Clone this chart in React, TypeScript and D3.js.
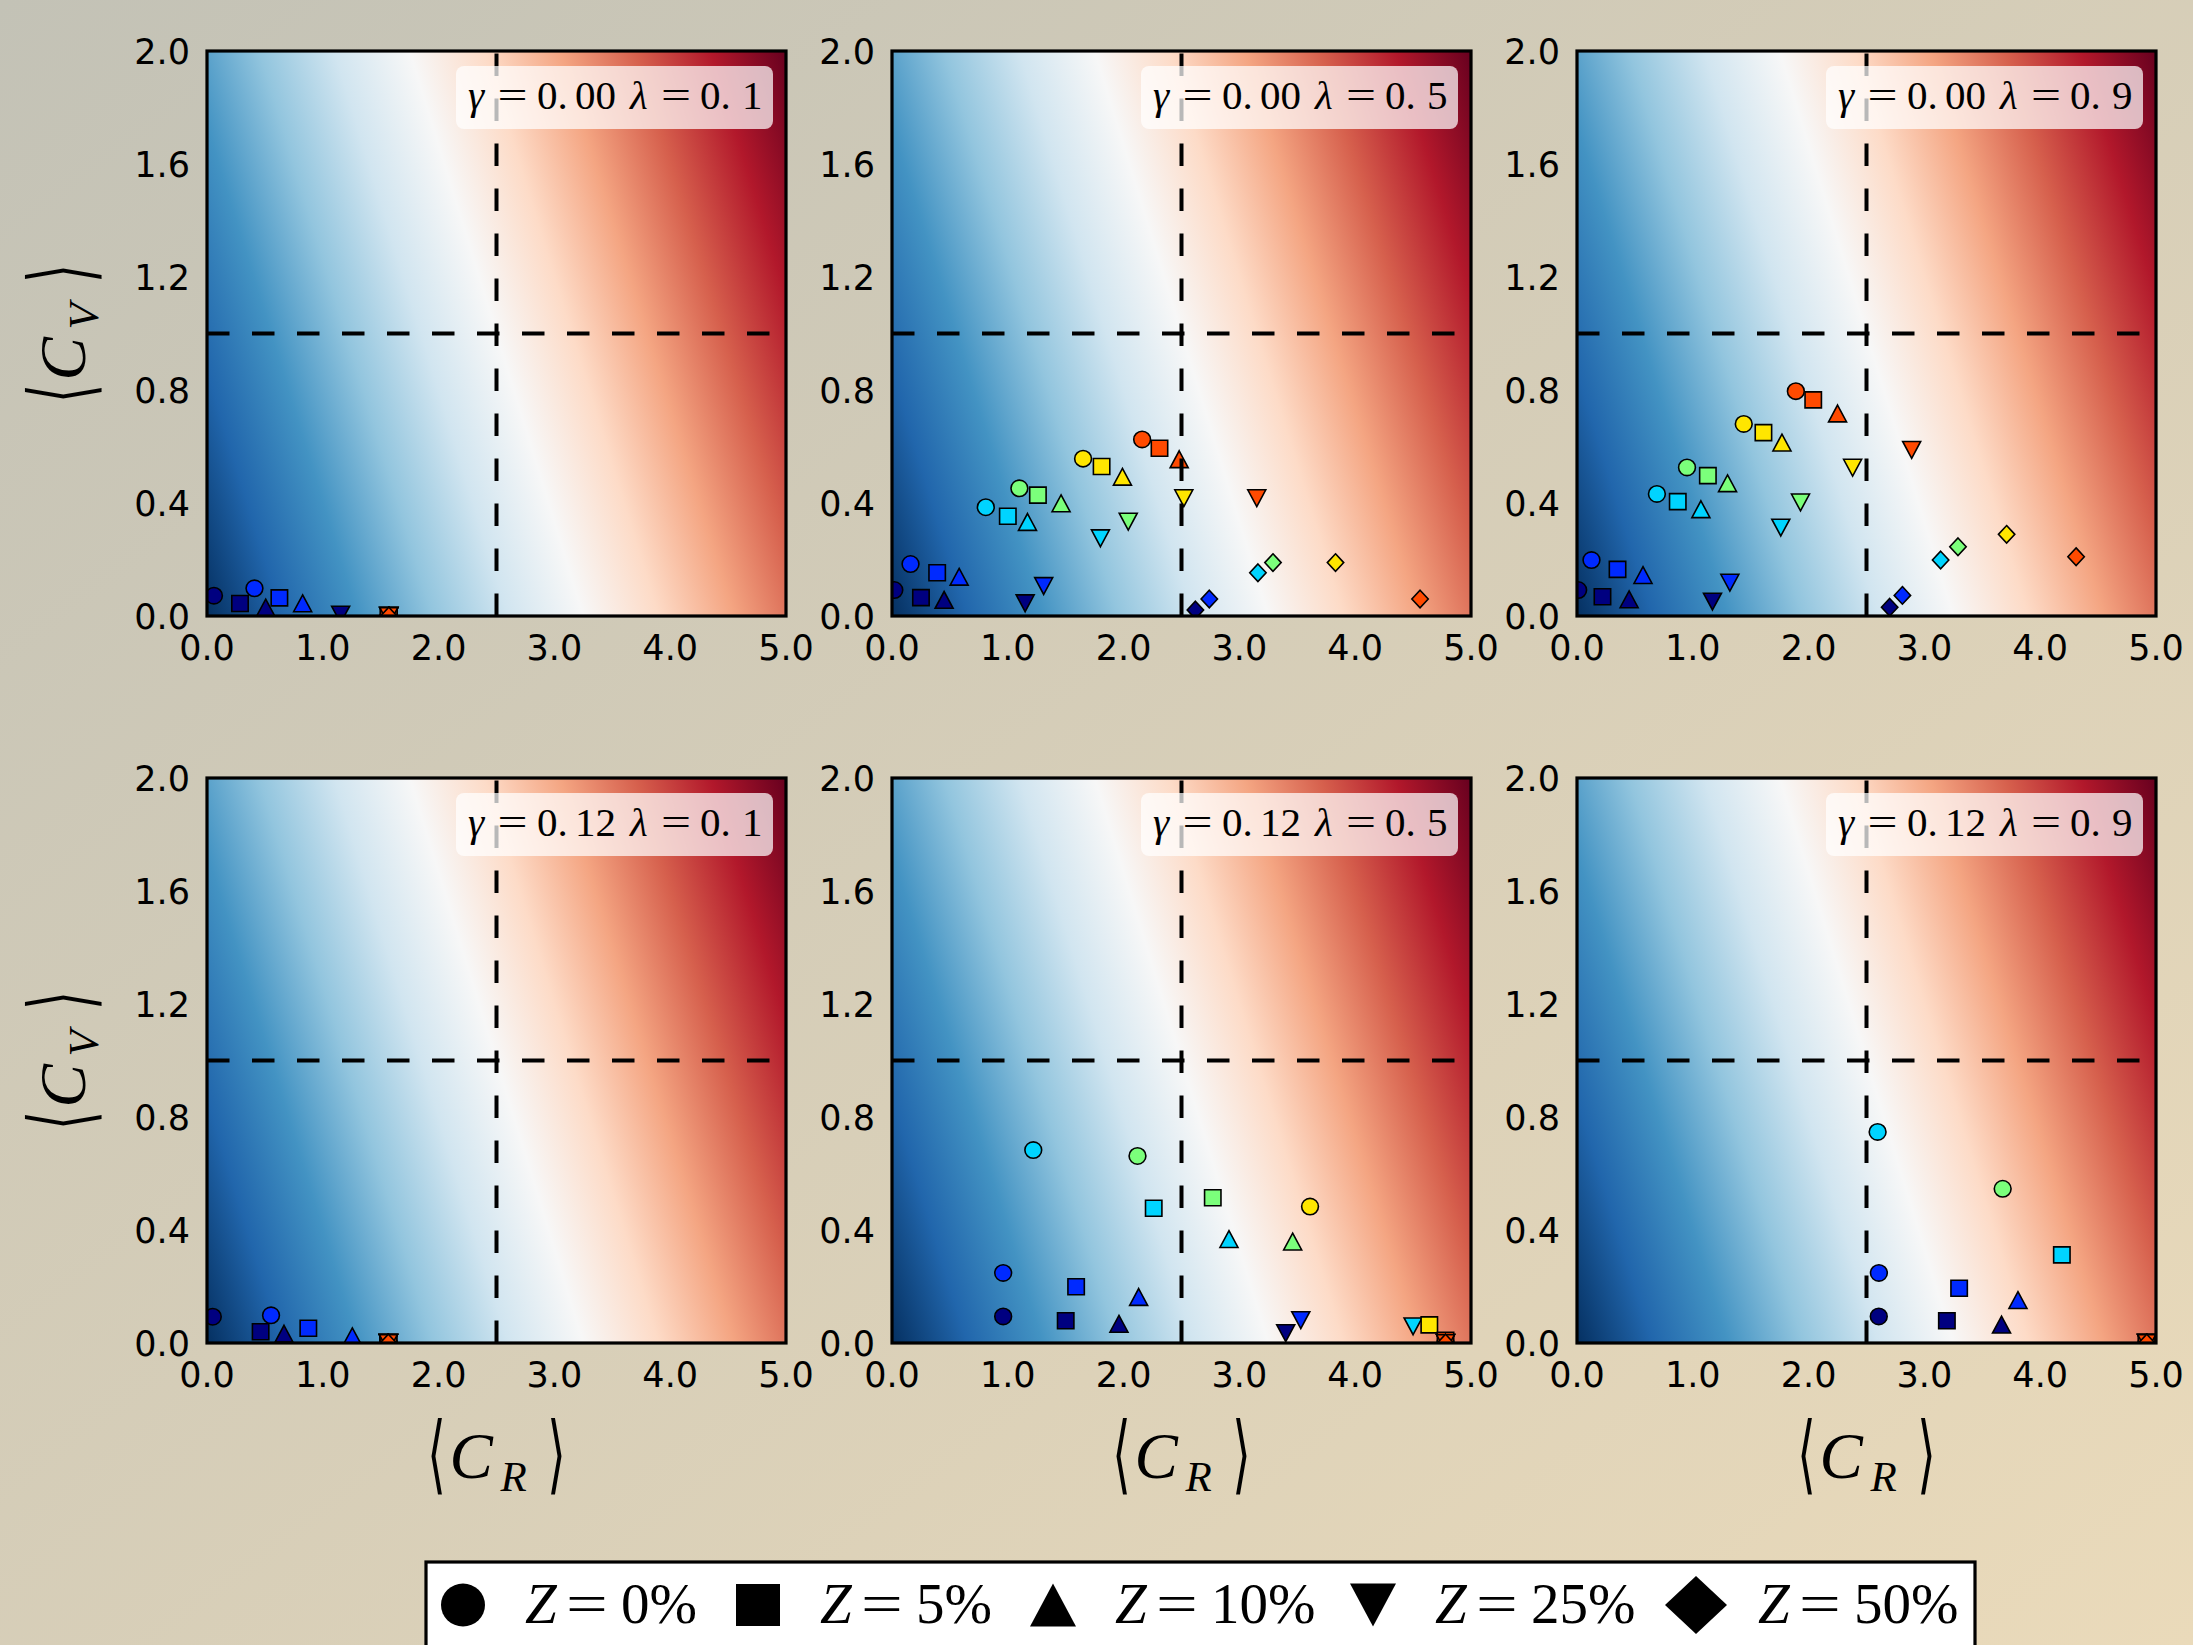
import React from "react";
import * as d3 from "d3";

const WIDTH = 2193;
const HEIGHT = 1645;

// ---------- labels / categories ----------
const gammaLabels = ["0.00", "0.00", "0.00", "0.12", "0.12", "0.12"];
const lambdaLabels = ["0.1", "0.5", "0.9", "0.1", "0.5", "0.9"];
const zLabels = ["0%", "5%", "10%", "25%", "50%"];
const markerShapes = ["circle", "square", "triangle", "triangleDown", "diamond"];
// jet colormap samples for the six series inside every marker group
const seriesColors = ["#000080", "#002aff", "#00d4ff", "#7bff7b", "#ffe600", "#ff4a00"];
const xTicks = [0, 1, 2, 3, 4, 5];
const yTicks = [0, 0.4, 0.8, 1.2, 1.6, 2.0];
const xDomain = [0, 5];
const yDomain = [0, 2];
const xThreshold = 2.5;
const yThreshold = 1.0;
// background field: value = <C_R> + fieldSlopeY * <C_V>, mapped on RdBu_r over [0, fieldMax]
const fieldSlopeY = 0.75;
const fieldMax = 6.5;

// ---------- data: rows = Z groups (0,5,10,25,50 %), columns = six colour series ----------
const panel1 = [
  [[0.06, 0.072], [0.41, 0.098], [1.57, 0.0], [1.57, 0.0], [1.57, 0.0], [1.57, 0.0]],
  [[0.285, 0.044], [0.625, 0.064], [1.57, 0.0], [1.57, 0.0], [1.57, 0.0], [1.57, 0.0]],
  [[0.507, 0.03], [0.826, 0.045], [1.57, 0.0], [1.57, 0.0], [1.57, 0.0], [1.57, 0.0]],
  [[1.154, 0.005], [1.57, 0.0], [1.57, 0.0], [1.57, 0.0], [1.57, 0.0], [1.57, 0.0]],
  [[1.57, 0.0], [1.57, 0.0], [1.57, 0.0], [1.57, 0.0], [1.57, 0.0], [1.57, 0.0]],
];
const panel2 = [
  [[0.02, 0.092], [0.16, 0.184], [0.81, 0.385], [1.1, 0.452], [1.65, 0.557], [2.16, 0.625]],
  [[0.25, 0.065], [0.39, 0.153], [1.0, 0.353], [1.26, 0.428], [1.81, 0.529], [2.31, 0.594]],
  [[0.45, 0.057], [0.58, 0.139], [1.17, 0.333], [1.46, 0.399], [1.99, 0.493], [2.48, 0.555]],
  [[1.15, 0.045], [1.31, 0.106], [1.8, 0.275], [2.04, 0.334], [2.52, 0.417], [3.15, 0.417]],
  [[2.62, 0.021], [2.74, 0.06], [3.16, 0.153], [3.29, 0.189], [3.83, 0.189], [4.56, 0.06]],
];
const panel3 = [
  [[0.01, 0.092], [0.125, 0.198], [0.69, 0.432], [0.95, 0.526], [1.44, 0.68], [1.89, 0.796]],
  [[0.22, 0.068], [0.35, 0.165], [0.87, 0.405], [1.13, 0.497], [1.61, 0.649], [2.04, 0.765]],
  [[0.45, 0.059], [0.57, 0.145], [1.07, 0.378], [1.3, 0.47], [1.77, 0.614], [2.25, 0.717]],
  [[1.17, 0.051], [1.32, 0.118], [1.76, 0.313], [1.93, 0.402], [2.38, 0.525], [2.89, 0.588]],
  [[2.7, 0.031], [2.81, 0.073], [3.14, 0.198], [3.29, 0.245], [3.71, 0.289], [4.31, 0.21]],
];
const panel4 = [
  [[0.05, 0.093], [0.553, 0.098], [1.566, 0.0], [1.566, 0.0], [1.566, 0.0], [1.566, 0.0]],
  [[0.463, 0.04], [0.875, 0.052], [1.566, 0.0], [1.566, 0.0], [1.566, 0.0], [1.566, 0.0]],
  [[0.665, 0.033], [1.255, 0.024], [1.566, 0.0], [1.566, 0.0], [1.566, 0.0], [1.566, 0.0]],
  [[1.566, 0.0], [1.566, 0.0], [1.566, 0.0], [1.566, 0.0], [1.566, 0.0], [1.566, 0.0]],
  [[1.566, 0.0], [1.566, 0.0], [1.566, 0.0], [1.566, 0.0], [1.566, 0.0], [1.566, 0.0]],
];
const panel5 = [
  [[0.96, 0.094], [0.96, 0.248], [1.22, 0.683], [2.12, 0.662], [3.61, 0.483], [4.78, 0.0]],
  [[1.5, 0.079], [1.59, 0.199], [2.26, 0.477], [2.77, 0.514], [4.64, 0.064], [4.78, 0.01]],
  [[1.96, 0.068], [2.13, 0.163], [2.91, 0.368], [3.46, 0.359], [4.78, 0.0], [4.78, 0.0]],
  [[3.4, 0.035], [3.53, 0.081], [4.5, 0.059], [4.78, 0.0], [4.78, 0.0], [4.78, 0.0]],
  [[4.78, 0.0], [4.78, 0.0], [4.78, 0.0], [4.78, 0.0], [4.78, 0.0], [4.78, 0.0]],
];
const panel6 = [
  [[2.606, 0.094], [2.607, 0.248], [2.596, 0.747], [3.676, 0.546], [4.92, 0.0], [4.92, 0.0]],
  [[3.194, 0.079], [3.3, 0.194], [4.187, 0.312], [4.92, 0.0], [4.92, 0.0], [4.92, 0.0]],
  [[3.666, 0.065], [3.808, 0.152], [4.92, 0.0], [4.92, 0.0], [4.92, 0.0], [4.92, 0.0]],
  [[4.92, 0.0], [4.92, 0.0], [4.92, 0.0], [4.92, 0.0], [4.92, 0.0], [4.92, 0.0]],
  [[4.92, 0.0], [4.92, 0.0], [4.92, 0.0], [4.92, 0.0], [4.92, 0.0], [4.92, 0.0]],
];
const panels = [panel1, panel2, panel3, panel4, panel5, panel6];

// ---------- layout ----------
const colLeft = [207, 892, 1577];
const rowTop = [51, 778];
const PW = 579;
const PH = 565;
const TICK_FONT = "DejaVu Sans";
const MATH_FONT = "Liberation Serif";

function markerPath(shape: string, hw: number, hh: number): string {
  switch (shape) {
    case "square":
      return `M${-hw},${-hh}L${hw},${-hh}L${hw},${hh}L${-hw},${hh}Z`;
    case "triangle":
      return `M0,${-hh}L${hw},${hh}L${-hw},${hh}Z`;
    case "triangleDown":
      return `M0,${hh}L${hw},${-hh}L${-hw},${-hh}Z`;
    case "diamond":
      return `M0,${-hh}L${hw},0L0,${hh}L${-hw},0Z`;
    default:
      return "";
  }
}

function Marker(props: { shape: string; cx: number; cy: number; fill: string; hw: number; hh: number; stroke?: string; sw?: number }) {
  const { shape, cx, cy, fill, hw, hh, stroke, sw } = props;
  if (shape === "circle") {
    return <ellipse cx={cx} cy={cy} rx={hw} ry={hh} fill={fill} stroke={stroke || "none"} strokeWidth={sw || 0} />;
  }
  return (
    <path
      d={markerPath(shape, hw, hh)}
      transform={`translate(${cx},${cy})`}
      fill={fill}
      stroke={stroke || "none"}
      strokeWidth={sw || 0}
      strokeLinejoin="miter"
    />
  );
}

const plotMarkerSize: Record<string, [number, number]> = {
  circle: [8.4, 8.2],
  square: [8.2, 8.0],
  triangle: [9.0, 8.4],
  triangleDown: [9.0, 8.4],
  diamond: [8.2, 8.8],
};
const legendMarkerSize: Record<string, [number, number]> = {
  circle: [22, 21.5],
  square: [22, 21],
  triangle: [23, 21.5],
  triangleDown: [23, 21.5],
  diamond: [31, 29],
};

// a wide "=" sign like the math font of the original
function Equals(props: { cx: number; y: number; size: number }) {
  const { cx, y, size } = props;
  return (
    <text transform={`translate(${cx},${y}) scale(1.3,1)`} fontFamily={MATH_FONT} fontSize={size} textAnchor="middle" fill="#000">
      =
    </text>
  );
}

function AxisLabel(props: { cx: number; cy: number; rotate: number; sub: string }) {
  const { cx, cy, rotate, sub } = props;
  return (
    <g transform={`translate(${cx},${cy}) rotate(${rotate})`}>
      <text transform="translate(-60,30) scale(0.55,1)" fontFamily="DejaVu Sans" fontSize={86} textAnchor="middle" fill="#000">
        ⟨
      </text>
      <text x={-47} y={25} fontFamily={MATH_FONT} fontStyle="italic" fontSize={65} fill="#000">
        C
      </text>
      <text x={4} y={38} fontFamily={MATH_FONT} fontStyle="italic" fontSize={43} fill="#000">
        {sub}
      </text>
      <text transform="translate(60,30) scale(0.55,1)" fontFamily="DejaVu Sans" fontSize={86} textAnchor="middle" fill="#000">
        ⟩
      </text>
    </g>
  );
}

function Panel(props: { index: number }) {
  const { index } = props;
  const col = index % 3;
  const row = Math.floor(index / 3);
  const x0 = colLeft[col];
  const y0 = rowTop[row];
  const x = d3.scaleLinear().domain(xDomain).range([x0, x0 + PW]);
  const y = d3.scaleLinear().domain(yDomain).range([y0 + PH, y0]);
  const data = panels[index];

  // gradient geometry for field f = x + slope*y
  const sx = x(1) - x(0);
  const sy = y(0) - y(1);
  const gx = 1 / sx;
  const gy = -fieldSlopeY / sy;
  const n2 = gx * gx + gy * gy;
  const gx1 = x(0);
  const gy1 = y(0);
  const gx2 = gx1 + (fieldMax * gx) / n2;
  const gy2 = gy1 + (fieldMax * gy) / n2;
  const rdbu = (d3.schemeRdBu[11] as readonly string[]).slice().reverse();
  const gradId = `field-${index}`;
  const clipId = `clip-${index}`;
  const fmt = d3.format(".1f");

  const boxW = 317;
  const boxH = 63;
  const boxX = x0 + PW - 13 - boxW;
  const boxY = y0 + 15;
  const base = boxY + 43;
  const g = gammaLabels[index];
  const l = lambdaLabels[index];

  const marks: JSX.Element[] = [];
  seriesColors.forEach((c, ci) => {
    markerShapes.forEach((shape, si) => {
      const p = data[si][ci];
      const [hw, hh] = plotMarkerSize[shape];
      marks.push(
        <Marker key={`${ci}-${si}`} shape={shape} cx={x(p[0])} cy={y(p[1])} fill={c} hw={hw} hh={hh} stroke="#000" sw={1.6} />
      );
    });
  });

  return (
    <g>
      <defs>
        <linearGradient id={gradId} gradientUnits="userSpaceOnUse" x1={gx1} y1={gy1} x2={gx2} y2={gy2}>
          {rdbu.map((c, i) => (
            <stop key={i} offset={i / (rdbu.length - 1)} stopColor={c} />
          ))}
        </linearGradient>
        <clipPath id={clipId}>
          <rect x={x0} y={y0} width={PW} height={PH} />
        </clipPath>
      </defs>
      <rect x={x0} y={y0} width={PW} height={PH} fill={`url(#${gradId})`} />
      <g clipPath={`url(#${clipId})`}>{marks}</g>
      <line x1={x(xThreshold)} y1={y(yDomain[0])} x2={x(xThreshold)} y2={y(yDomain[1])} stroke="#000" strokeWidth={4} strokeDasharray="22.5 22.5" />
      <line x1={x(xDomain[0])} y1={y(yThreshold)} x2={x(xDomain[1])} y2={y(yThreshold)} stroke="#000" strokeWidth={4} strokeDasharray="22.5 22.5" />
      <rect x={boxX} y={boxY} width={boxW} height={boxH} rx={8} ry={8} fill="#fff" fillOpacity={0.72} />
      <text fontFamily={MATH_FONT} fontSize={41} fill="#000" y={base}>
        <tspan x={boxX + 12} fontStyle="italic">γ</tspan>
        <tspan x={boxX + 81}>{g.slice(0, 2)}</tspan>
        <tspan x={boxX + 119}>{g.slice(2) + " "}</tspan>
        <tspan x={boxX + 174} fontStyle="italic">λ</tspan>
        <tspan x={boxX + 244}>{l.slice(0, 2)}</tspan>
        <tspan x={boxX + 286}>{l.slice(2)}</tspan>
      </text>
      <Equals cx={boxX + 56.5} y={base} size={41} />
      <Equals cx={boxX + 220} y={base} size={41} />
      <rect x={x0} y={y0} width={PW} height={PH} fill="none" stroke="#000" strokeWidth={3.2} />
      {xTicks.map((t) => (
        <text key={`xt${t}`} x={x(t)} y={y0 + PH + 44} fontFamily={TICK_FONT} fontSize={35} textAnchor="middle" fill="#000">
          {fmt(t)}
        </text>
      ))}
      {yTicks.map((t) => (
        <text key={`yt${t}`} x={x0 - 17} y={y(t)} dy="0.36em" fontFamily={TICK_FONT} fontSize={35} textAnchor="end" fill="#000">
          {fmt(t)}
        </text>
      ))}
      {col === 0 && <AxisLabel cx={60} cy={y0 + PH / 2} rotate={-90} sub="V" />}
      {row === 1 && <AxisLabel cx={x0 + PW / 2} cy={1453} rotate={0} sub="R" />}
    </g>
  );
}

const legendMarkerX = [463, 758, 1053, 1373, 1696];

function Legend() {
  const cy = 1605;
  const base = 1623;
  return (
    <g>
      <rect x={426} y={1562} width={1549} height={140} fill="#fff" stroke="#000" strokeWidth={3.2} />
      {markerShapes.map((shape, i) => {
        const mx = legendMarkerX[i];
        const tx = mx + 62;
        const [hw, hh] = legendMarkerSize[shape];
        return (
          <g key={shape}>
            <Marker shape={shape} cx={mx} cy={cy} fill="#000" hw={hw} hh={hh} />
            <text fontFamily={MATH_FONT} fontSize={57} fill="#000" y={base}>
              <tspan x={tx} fontStyle="italic">Z</tspan>
              <tspan x={tx + 96}>{zLabels[i]}</tspan>
            </text>
            <Equals cx={tx + 62} y={base} size={57} />
          </g>
        );
      })}
    </g>
  );
}

export default function App() {
  return (
    <svg
      width={WIDTH}
      height={HEIGHT}
      viewBox={`0 0 ${WIDTH} ${HEIGHT}`}
      style={{ position: "absolute", left: 0, top: 0, display: "block" }}
    >
      <defs>
        <linearGradient id="page-bg" x1="0" y1="0" x2="1" y2="1">
          <stop offset="0" stopColor="#c3c2b6" />
          <stop offset="1" stopColor="#eadaba" />
        </linearGradient>
      </defs>
      <rect x={0} y={0} width={WIDTH} height={HEIGHT} fill="url(#page-bg)" />
      {panels.map((_, i) => (
        <Panel key={i} index={i} />
      ))}
      <Legend />
    </svg>
  );
}
